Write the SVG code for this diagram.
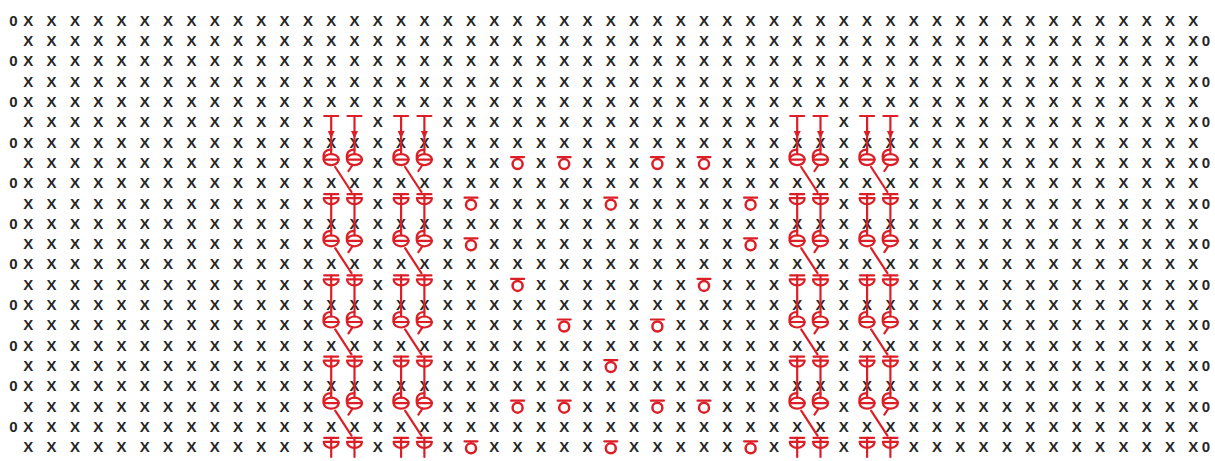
<svg xmlns="http://www.w3.org/2000/svg" xmlns:xlink="http://www.w3.org/1999/xlink" width="1215" height="461" viewBox="0 0 1215 461">
<defs>
<style>
.row{font-family:"Liberation Sans",Arial,sans-serif;font-weight:bold;font-size:15px;fill:#262626;text-anchor:middle}
.r{fill:none;stroke:#dc1f26;stroke-width:2.2;stroke-linecap:round;stroke-linejoin:round}
.rf{fill:#dc1f26;stroke:none}
.ring{fill:#fff;stroke:#dc1f26;stroke-width:2.5}
</style>
<g id="colSym">
<path class="r" d="M-7,116H7"/>
<polygon class="rf" points="-3.5,131 3.5,131 0,138.5"/>
<ellipse class="r" cx="0" cy="159.6" rx="7.5" ry="5.5"/>
<path class="r" d="M-7.5,159.6H7.5M0,149.6Q-9,149.6 -7.5,159.6"/>
<ellipse class="r" cx="0" cy="240.8" rx="7.5" ry="5.5"/>
<path class="r" d="M-7.5,240.8H7.5M0,230.8Q-9,230.8 -7.5,240.8"/>
<ellipse class="r" cx="0" cy="322" rx="7.5" ry="5.5"/>
<path class="r" d="M-7.5,322H7.5M0,312Q-9,312 -7.5,322"/>
<ellipse class="r" cx="0" cy="403.2" rx="7.5" ry="5.5"/>
<path class="r" d="M-7.5,403.2H7.5M0,393.2Q-9,393.2 -7.5,403.2"/>
<path class="r" d="M-7,194.2H7M-7.5,198.2H7.5A7.5,6 0 0 1 -7.5,198.2Z"/>
<path class="r" d="M-7,275.4H7M-7.5,279.4H7.5A7.5,6 0 0 1 -7.5,279.4Z"/>
<path class="r" d="M-7,356.6H7M-7.5,360.6H7.5A7.5,6 0 0 1 -7.5,360.6Z"/>
<path class="r" d="M-7,437.8H7M-7.5,441.8H7.5A7.5,6 0 0 1 -7.5,441.8Z"/>
</g>
<g id="pairSym">
<use xlink:href="#colSym" href="#colSym" x="0"/>
<use xlink:href="#colSym" href="#colSym" x="23.3"/>
</g>
<path id="colLine" class="r" d="M0,116V154.1M0,194.2V235.3M0,275.4V316.5M0,356.6V397.7M0,437.8V457"/>
<g id="pairLines">
<use xlink:href="#colLine" href="#colLine" x="0"/>
<use xlink:href="#colLine" href="#colLine" x="23.3"/>
<path class="r" d="M4,167L20.3,192M4,248.2L20.3,273.2M4,329.4L20.3,354.4M4,410.6L20.3,435.6"/>
<path class="r" d="M21.3,165L17.3,171M21.3,246.2L17.3,252.2M21.3,327.4L17.3,333.4M21.3,408.6L17.3,414.6"/>
</g>
<g id="ring"><path class="r" d="M-6.5,-5.5H6.5" stroke-width="2.5"/><circle class="ring" cx="0" cy="1.5" r="5"/></g>
</defs>
<rect width="1215" height="461" fill="#fff"/>
<g id="stitch-grid">
<text class="row" y="25.8" x="13.5 28.3 51.6 74.9 98.2 121.5 144.8 168.1 191.4 214.7 238 261.3 284.6 307.9 331.2 354.5 377.8 401.1 424.4 447.7 471 494.3 517.6 540.9 564.2 587.5 610.8 634.1 657.4 680.7 704 727.3 750.6 773.9 797.2 820.5 843.8 867.1 890.4 913.7 937 960.3 983.6 1006.9 1030.2 1053.5 1076.8 1100.1 1123.4 1146.7 1170 1193.3">0XXXXXXXXXXXXXXXXXXXXXXXXXXXXXXXXXXXXXXXXXXXXXXXXXXX</text>
<text class="row" y="46.1" x="28.3 51.6 74.9 98.2 121.5 144.8 168.1 191.4 214.7 238 261.3 284.6 307.9 331.2 354.5 377.8 401.1 424.4 447.7 471 494.3 517.6 540.9 564.2 587.5 610.8 634.1 657.4 680.7 704 727.3 750.6 773.9 797.2 820.5 843.8 867.1 890.4 913.7 937 960.3 983.6 1006.9 1030.2 1053.5 1076.8 1100.1 1123.4 1146.7 1170 1193.3 1206">XXXXXXXXXXXXXXXXXXXXXXXXXXXXXXXXXXXXXXXXXXXXXXXXXXX0</text>
<text class="row" y="66.4" x="13.5 28.3 51.6 74.9 98.2 121.5 144.8 168.1 191.4 214.7 238 261.3 284.6 307.9 331.2 354.5 377.8 401.1 424.4 447.7 471 494.3 517.6 540.9 564.2 587.5 610.8 634.1 657.4 680.7 704 727.3 750.6 773.9 797.2 820.5 843.8 867.1 890.4 913.7 937 960.3 983.6 1006.9 1030.2 1053.5 1076.8 1100.1 1123.4 1146.7 1170 1193.3">0XXXXXXXXXXXXXXXXXXXXXXXXXXXXXXXXXXXXXXXXXXXXXXXXXXX</text>
<text class="row" y="86.7" x="28.3 51.6 74.9 98.2 121.5 144.8 168.1 191.4 214.7 238 261.3 284.6 307.9 331.2 354.5 377.8 401.1 424.4 447.7 471 494.3 517.6 540.9 564.2 587.5 610.8 634.1 657.4 680.7 704 727.3 750.6 773.9 797.2 820.5 843.8 867.1 890.4 913.7 937 960.3 983.6 1006.9 1030.2 1053.5 1076.8 1100.1 1123.4 1146.7 1170 1193.3 1206">XXXXXXXXXXXXXXXXXXXXXXXXXXXXXXXXXXXXXXXXXXXXXXXXXXX0</text>
<text class="row" y="107" x="13.5 28.3 51.6 74.9 98.2 121.5 144.8 168.1 191.4 214.7 238 261.3 284.6 307.9 331.2 354.5 377.8 401.1 424.4 447.7 471 494.3 517.6 540.9 564.2 587.5 610.8 634.1 657.4 680.7 704 727.3 750.6 773.9 797.2 820.5 843.8 867.1 890.4 913.7 937 960.3 983.6 1006.9 1030.2 1053.5 1076.8 1100.1 1123.4 1146.7 1170 1193.3">0XXXXXXXXXXXXXXXXXXXXXXXXXXXXXXXXXXXXXXXXXXXXXXXXXXX</text>
<text class="row" y="127.3"><tspan x="28.3 51.6 74.9 98.2 121.5 144.8 168.1 191.4 214.7 238 261.3 284.6 307.9">XXXXXXXXXXXXX</tspan><tspan x="377.8">X</tspan><tspan x="447.7 471 494.3 517.6 540.9 564.2 587.5 610.8 634.1 657.4 680.7 704 727.3 750.6 773.9">XXXXXXXXXXXXXXX</tspan><tspan x="843.8">X</tspan><tspan x="913.7 937 960.3 983.6 1006.9 1030.2 1053.5 1076.8 1100.1 1123.4 1146.7 1170 1193.3 1206">XXXXXXXXXXXXX0</tspan></text>
<text class="row" y="147.6" x="13.5 28.3 51.6 74.9 98.2 121.5 144.8 168.1 191.4 214.7 238 261.3 284.6 307.9 331.2 354.5 377.8 401.1 424.4 447.7 471 494.3 517.6 540.9 564.2 587.5 610.8 634.1 657.4 680.7 704 727.3 750.6 773.9 797.2 820.5 843.8 867.1 890.4 913.7 937 960.3 983.6 1006.9 1030.2 1053.5 1076.8 1100.1 1123.4 1146.7 1170 1193.3">0XXXXXXXXXXXXXXXXXXXXXXXXXXXXXXXXXXXXXXXXXXXXXXXXXXX</text>
<text class="row" y="167.9"><tspan x="28.3 51.6 74.9 98.2 121.5 144.8 168.1 191.4 214.7 238 261.3 284.6 307.9">XXXXXXXXXXXXX</tspan><tspan x="377.8">X</tspan><tspan x="447.7 471 494.3 540.9 587.5 610.8 634.1 680.7 727.3 750.6 773.9">XXXXXXXXXXX</tspan><tspan x="843.8">X</tspan><tspan x="913.7 937 960.3 983.6 1006.9 1030.2 1053.5 1076.8 1100.1 1123.4 1146.7 1170 1193.3 1206">XXXXXXXXXXXXX0</tspan></text>
<text class="row" y="188.2" x="13.5 28.3 51.6 74.9 98.2 121.5 144.8 168.1 191.4 214.7 238 261.3 284.6 307.9 331.2 354.5 377.8 401.1 424.4 447.7 471 494.3 517.6 540.9 564.2 587.5 610.8 634.1 657.4 680.7 704 727.3 750.6 773.9 797.2 820.5 843.8 867.1 890.4 913.7 937 960.3 983.6 1006.9 1030.2 1053.5 1076.8 1100.1 1123.4 1146.7 1170 1193.3">0XXXXXXXXXXXXXXXXXXXXXXXXXXXXXXXXXXXXXXXXXXXXXXXXXXX</text>
<text class="row" y="208.5"><tspan x="28.3 51.6 74.9 98.2 121.5 144.8 168.1 191.4 214.7 238 261.3 284.6 307.9">XXXXXXXXXXXXX</tspan><tspan x="377.8">X</tspan><tspan x="447.7 494.3 517.6 540.9 564.2 587.5 634.1 657.4 680.7 704 727.3 773.9">XXXXXXXXXXXX</tspan><tspan x="843.8">X</tspan><tspan x="913.7 937 960.3 983.6 1006.9 1030.2 1053.5 1076.8 1100.1 1123.4 1146.7 1170 1193.3 1206">XXXXXXXXXXXXX0</tspan></text>
<text class="row" y="228.8" x="13.5 28.3 51.6 74.9 98.2 121.5 144.8 168.1 191.4 214.7 238 261.3 284.6 307.9 331.2 354.5 377.8 401.1 424.4 447.7 471 494.3 517.6 540.9 564.2 587.5 610.8 634.1 657.4 680.7 704 727.3 750.6 773.9 797.2 820.5 843.8 867.1 890.4 913.7 937 960.3 983.6 1006.9 1030.2 1053.5 1076.8 1100.1 1123.4 1146.7 1170 1193.3">0XXXXXXXXXXXXXXXXXXXXXXXXXXXXXXXXXXXXXXXXXXXXXXXXXXX</text>
<text class="row" y="249.1"><tspan x="28.3 51.6 74.9 98.2 121.5 144.8 168.1 191.4 214.7 238 261.3 284.6 307.9">XXXXXXXXXXXXX</tspan><tspan x="377.8">X</tspan><tspan x="447.7 494.3 517.6 540.9 564.2 587.5 610.8 634.1 657.4 680.7 704 727.3 773.9">XXXXXXXXXXXXX</tspan><tspan x="843.8">X</tspan><tspan x="913.7 937 960.3 983.6 1006.9 1030.2 1053.5 1076.8 1100.1 1123.4 1146.7 1170 1193.3 1206">XXXXXXXXXXXXX0</tspan></text>
<text class="row" y="269.4" x="13.5 28.3 51.6 74.9 98.2 121.5 144.8 168.1 191.4 214.7 238 261.3 284.6 307.9 331.2 354.5 377.8 401.1 424.4 447.7 471 494.3 517.6 540.9 564.2 587.5 610.8 634.1 657.4 680.7 704 727.3 750.6 773.9 797.2 820.5 843.8 867.1 890.4 913.7 937 960.3 983.6 1006.9 1030.2 1053.5 1076.8 1100.1 1123.4 1146.7 1170 1193.3">0XXXXXXXXXXXXXXXXXXXXXXXXXXXXXXXXXXXXXXXXXXXXXXXXXXX</text>
<text class="row" y="289.7"><tspan x="28.3 51.6 74.9 98.2 121.5 144.8 168.1 191.4 214.7 238 261.3 284.6 307.9">XXXXXXXXXXXXX</tspan><tspan x="377.8">X</tspan><tspan x="447.7 471 494.3 540.9 564.2 587.5 610.8 634.1 657.4 680.7 727.3 750.6 773.9">XXXXXXXXXXXXX</tspan><tspan x="843.8">X</tspan><tspan x="913.7 937 960.3 983.6 1006.9 1030.2 1053.5 1076.8 1100.1 1123.4 1146.7 1170 1193.3 1206">XXXXXXXXXXXXX0</tspan></text>
<text class="row" y="310" x="13.5 28.3 51.6 74.9 98.2 121.5 144.8 168.1 191.4 214.7 238 261.3 284.6 307.9 331.2 354.5 377.8 401.1 424.4 447.7 471 494.3 517.6 540.9 564.2 587.5 610.8 634.1 657.4 680.7 704 727.3 750.6 773.9 797.2 820.5 843.8 867.1 890.4 913.7 937 960.3 983.6 1006.9 1030.2 1053.5 1076.8 1100.1 1123.4 1146.7 1170 1193.3">0XXXXXXXXXXXXXXXXXXXXXXXXXXXXXXXXXXXXXXXXXXXXXXXXXXX</text>
<text class="row" y="330.3"><tspan x="28.3 51.6 74.9 98.2 121.5 144.8 168.1 191.4 214.7 238 261.3 284.6 307.9">XXXXXXXXXXXXX</tspan><tspan x="377.8">X</tspan><tspan x="447.7 471 494.3 517.6 540.9 587.5 610.8 634.1 680.7 704 727.3 750.6 773.9">XXXXXXXXXXXXX</tspan><tspan x="843.8">X</tspan><tspan x="913.7 937 960.3 983.6 1006.9 1030.2 1053.5 1076.8 1100.1 1123.4 1146.7 1170 1193.3 1206">XXXXXXXXXXXXX0</tspan></text>
<text class="row" y="350.6" x="13.5 28.3 51.6 74.9 98.2 121.5 144.8 168.1 191.4 214.7 238 261.3 284.6 307.9 331.2 354.5 377.8 401.1 424.4 447.7 471 494.3 517.6 540.9 564.2 587.5 610.8 634.1 657.4 680.7 704 727.3 750.6 773.9 797.2 820.5 843.8 867.1 890.4 913.7 937 960.3 983.6 1006.9 1030.2 1053.5 1076.8 1100.1 1123.4 1146.7 1170 1193.3">0XXXXXXXXXXXXXXXXXXXXXXXXXXXXXXXXXXXXXXXXXXXXXXXXXXX</text>
<text class="row" y="370.9"><tspan x="28.3 51.6 74.9 98.2 121.5 144.8 168.1 191.4 214.7 238 261.3 284.6 307.9">XXXXXXXXXXXXX</tspan><tspan x="377.8">X</tspan><tspan x="447.7 471 494.3 517.6 540.9 564.2 587.5 634.1 657.4 680.7 704 727.3 750.6 773.9">XXXXXXXXXXXXXX</tspan><tspan x="843.8">X</tspan><tspan x="913.7 937 960.3 983.6 1006.9 1030.2 1053.5 1076.8 1100.1 1123.4 1146.7 1170 1193.3 1206">XXXXXXXXXXXXX0</tspan></text>
<text class="row" y="391.2" x="13.5 28.3 51.6 74.9 98.2 121.5 144.8 168.1 191.4 214.7 238 261.3 284.6 307.9 331.2 354.5 377.8 401.1 424.4 447.7 471 494.3 517.6 540.9 564.2 587.5 610.8 634.1 657.4 680.7 704 727.3 750.6 773.9 797.2 820.5 843.8 867.1 890.4 913.7 937 960.3 983.6 1006.9 1030.2 1053.5 1076.8 1100.1 1123.4 1146.7 1170 1193.3">0XXXXXXXXXXXXXXXXXXXXXXXXXXXXXXXXXXXXXXXXXXXXXXXXXXX</text>
<text class="row" y="411.5"><tspan x="28.3 51.6 74.9 98.2 121.5 144.8 168.1 191.4 214.7 238 261.3 284.6 307.9">XXXXXXXXXXXXX</tspan><tspan x="377.8">X</tspan><tspan x="447.7 471 494.3 540.9 587.5 610.8 634.1 680.7 727.3 750.6 773.9">XXXXXXXXXXX</tspan><tspan x="843.8">X</tspan><tspan x="913.7 937 960.3 983.6 1006.9 1030.2 1053.5 1076.8 1100.1 1123.4 1146.7 1170 1193.3 1206">XXXXXXXXXXXXX0</tspan></text>
<text class="row" y="431.8" x="13.5 28.3 51.6 74.9 98.2 121.5 144.8 168.1 191.4 214.7 238 261.3 284.6 307.9 331.2 354.5 377.8 401.1 424.4 447.7 471 494.3 517.6 540.9 564.2 587.5 610.8 634.1 657.4 680.7 704 727.3 750.6 773.9 797.2 820.5 843.8 867.1 890.4 913.7 937 960.3 983.6 1006.9 1030.2 1053.5 1076.8 1100.1 1123.4 1146.7 1170 1193.3">0XXXXXXXXXXXXXXXXXXXXXXXXXXXXXXXXXXXXXXXXXXXXXXXXXXX</text>
<text class="row" y="452.1"><tspan x="28.3 51.6 74.9 98.2 121.5 144.8 168.1 191.4 214.7 238 261.3 284.6 307.9">XXXXXXXXXXXXX</tspan><tspan x="377.8">X</tspan><tspan x="447.7 494.3 517.6 540.9 564.2 587.5 634.1 657.4 680.7 704 727.3 773.9">XXXXXXXXXXXX</tspan><tspan x="843.8">X</tspan><tspan x="913.7 937 960.3 983.6 1006.9 1030.2 1053.5 1076.8 1100.1 1123.4 1146.7 1170 1193.3 1206">XXXXXXXXXXXXX0</tspan></text>
</g>
<g id="connectors">
<use xlink:href="#pairLines" href="#pairLines" x="331.2"/>
<use xlink:href="#pairLines" href="#pairLines" x="401.1"/>
<use xlink:href="#pairLines" href="#pairLines" x="797.2"/>
<use xlink:href="#pairLines" href="#pairLines" x="867.1"/>
</g>
<g id="cable-1"><use xlink:href="#pairSym" href="#pairSym" x="331.2"/></g>
<g id="cable-2"><use xlink:href="#pairSym" href="#pairSym" x="401.1"/></g>
<g id="cable-3"><use xlink:href="#pairSym" href="#pairSym" x="797.2"/></g>
<g id="cable-4"><use xlink:href="#pairSym" href="#pairSym" x="867.1"/></g>
<g id="heart-motif">
<use xlink:href="#ring" href="#ring" x="517.6" y="162.6"/>
<use xlink:href="#ring" href="#ring" x="564.2" y="162.6"/>
<use xlink:href="#ring" href="#ring" x="657.4" y="162.6"/>
<use xlink:href="#ring" href="#ring" x="704" y="162.6"/>
<use xlink:href="#ring" href="#ring" x="471" y="203.2"/>
<use xlink:href="#ring" href="#ring" x="610.8" y="203.2"/>
<use xlink:href="#ring" href="#ring" x="750.6" y="203.2"/>
<use xlink:href="#ring" href="#ring" x="471" y="243.8"/>
<use xlink:href="#ring" href="#ring" x="750.6" y="243.8"/>
<use xlink:href="#ring" href="#ring" x="517.6" y="284.4"/>
<use xlink:href="#ring" href="#ring" x="704" y="284.4"/>
<use xlink:href="#ring" href="#ring" x="564.2" y="325"/>
<use xlink:href="#ring" href="#ring" x="657.4" y="325"/>
<use xlink:href="#ring" href="#ring" x="610.8" y="365.6"/>
<use xlink:href="#ring" href="#ring" x="517.6" y="406.2"/>
<use xlink:href="#ring" href="#ring" x="564.2" y="406.2"/>
<use xlink:href="#ring" href="#ring" x="657.4" y="406.2"/>
<use xlink:href="#ring" href="#ring" x="704" y="406.2"/>
<use xlink:href="#ring" href="#ring" x="471" y="446.8"/>
<use xlink:href="#ring" href="#ring" x="610.8" y="446.8"/>
<use xlink:href="#ring" href="#ring" x="750.6" y="446.8"/>
</g>
</svg>
